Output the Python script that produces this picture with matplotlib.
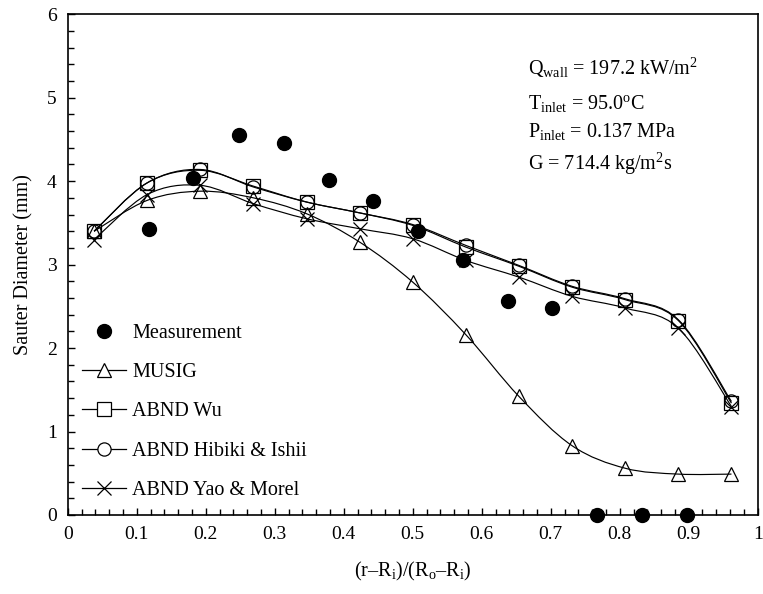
import matplotlib
matplotlib.use('Agg')
import matplotlib.pyplot as plt
import numpy as np
from matplotlib.path import Path
from matplotlib.patches import PathPatch
from matplotlib.lines import Line2D
from matplotlib.ticker import MultipleLocator

plt.rcParams['font.family'] = ['Liberation Serif', 'DejaVu Serif']
plt.rcParams['mathtext.fontset'] = 'custom'
plt.rcParams['mathtext.rm'] = 'Liberation Serif'
plt.rcParams['mathtext.it'] = 'Liberation Serif:italic'

# measured data
meas_x = [0.118, 0.182, 0.248, 0.313, 0.378, 0.442, 0.507, 0.573, 0.638, 0.702, 0.767, 0.832, 0.897]
meas_y = [3.43, 4.04, 4.55, 4.46, 4.01, 3.76, 3.40, 3.06, 2.57, 2.48, 0.0, 0.0, 0.0]

# model predictions
model_x = [0.038, 0.115, 0.192, 0.269, 0.346, 0.423, 0.500, 0.577, 0.654, 0.731, 0.808, 0.885, 0.962]
musig = [3.40, 3.77, 3.88, 3.80, 3.61, 3.27, 2.79, 2.16, 1.42, 0.83, 0.56, 0.49, 0.49]
abnd_wu = [3.40, 3.98, 4.13, 3.94, 3.75, 3.62, 3.47, 3.21, 2.98, 2.73, 2.58, 2.33, 1.34]
abnd_hibiki = [3.40, 3.98, 4.14, 3.93, 3.75, 3.62, 3.48, 3.23, 2.99, 2.74, 2.59, 2.34, 1.36]
abnd_yao = [3.30, 3.84, 3.95, 3.73, 3.55, 3.43, 3.31, 3.05, 2.85, 2.62, 2.48, 2.24, 1.30]

labels = ['Measurement', 'MUSIG', 'ABND Wu', 'ABND Hibiki & Ishii', 'ABND Yao & Morel']

conditions = [
    r'Q$_{\mathrm{wall}}$ = 197.2 kW/m$^{2}$',
    r'T$_{\mathrm{inlet}}$ = 95.0$^{\mathrm{o}}$C',
    r'P$_{\mathrm{inlet}}$ = 0.137 MPa',
    r'G = 714.4 kg/m$^{2}$s',
]
cond_y = [0.88, 0.81, 0.755, 0.69]


def smooth_path(x, y):
    # Excel-style smoothed line: Catmull-Rom segments as cubic Bezier
    p = np.column_stack([x, y])
    ext = np.vstack([p[0], p, p[-1]])
    verts = [p[0]]
    codes = [Path.MOVETO]
    for i in range(len(p) - 1):
        p0, p1, p2, p3 = ext[i], ext[i + 1], ext[i + 2], ext[i + 3]
        verts += [p1 + (p2 - p0) / 6, p2 - (p3 - p1) / 6, p2]
        codes += [Path.CURVE4] * 3
    return Path(verts, codes)


fig = plt.figure(figsize=(7.63, 5.94), dpi=100)
ax = fig.add_axes([0.089, 0.133, 0.904, 0.843])

ms = 9.5
series = [(musig, '^'), (abnd_wu, 's'), (abnd_hibiki, 'o'), (abnd_yao, 'x')]
for vals, mk in series:
    ax.add_patch(PathPatch(smooth_path(model_x, vals), fill=False, edgecolor='black', lw=0.85))
    ax.plot(model_x, vals, linestyle='none', marker=mk, ms=ms, mfc='none', mec='black', mew=0.9)

ax.plot(meas_x, meas_y, linestyle='none', marker='o', ms=10, color='black', clip_on=False, zorder=5)

handles = [Line2D([], [], linestyle='none', marker='o', ms=10, color='black')]
for vals, mk in series:
    handles.append(Line2D([], [], color='black', lw=0.9, marker=mk, ms=ms, mfc='white', mec='black', mew=0.9))
ax.legend(handles, labels, loc='upper left', bbox_to_anchor=(0.0, 0.41), frameon=False,
          fontsize=14.5, handlelength=2.2, handletextpad=0.3, labelspacing=1.0, borderaxespad=0.3)

for txt, yy in zip(conditions, cond_y):
    ax.text(0.667, yy, txt, transform=ax.transAxes, fontsize=14.5, va='baseline')

ax.set_xlim(0, 1)
ax.set_ylim(0, 6)
ax.xaxis.set_minor_locator(MultipleLocator(0.02))
ax.yaxis.set_major_locator(MultipleLocator(1))
ax.yaxis.set_minor_locator(MultipleLocator(0.2))
ax.set_xticks(np.arange(0, 1.01, 0.1))
ax.set_xticklabels(['0', '0.1', '0.2', '0.3', '0.4', '0.5', '0.6', '0.7', '0.8', '0.9', '1'])
ax.tick_params(which='both', direction='in', top=False, right=False, labelsize=14, width=1)
ax.tick_params(which='major', length=5, pad=8)
ax.tick_params(which='minor', length=4)
for s in ax.spines.values():
    s.set_linewidth(1.2)

ax.set_xlabel(r'(r–R$_{\mathrm{i}}$)/(R$_{\mathrm{o}}$–R$_{\mathrm{i}}$)', fontsize=14.5, labelpad=12)
ax.set_ylabel('Sauter Diameter (mm)', fontsize=14.5, labelpad=10)

fig.savefig('out.png', dpi=100)
